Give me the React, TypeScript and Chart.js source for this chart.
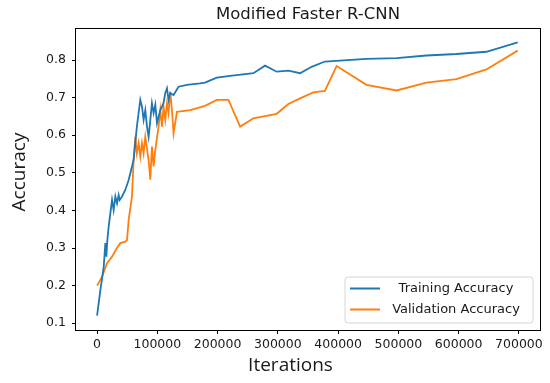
import React, { useEffect, useRef } from "react";
import { Chart, registerables } from "chart.js";

Chart.register(...registerables);

const TITLE = "Modified Faster R-CNN";
const X_LABEL = "Iterations";
const Y_LABEL = "Accuracy";
const SERIES_NAMES = ["Training Accuracy", "Validation Accuracy"];
const X_TICKS = [0, 100000, 200000, 300000, 400000, 500000, 600000, 700000];
const Y_TICKS = [0.1, 0.2, 0.3, 0.4, 0.5, 0.6, 0.7, 0.8];

const trainIter = [
  0, 5500, 11000, 13700, 15400, 16800, 19200, 24800, 27500, 30300, 33100, 35800, 37500, 41400, 46900,
  52400, 60600, 66000, 71700, 74500, 77200, 80000, 82800, 85500, 88300, 91000, 93800, 96600, 99400,
  104900, 110300, 113100, 116000, 118600, 121400, 126900, 135200, 149000, 171000, 179000, 198700,
  220800, 259400, 278800, 298000, 317400, 336800, 356000, 378000, 447000, 497000, 546600, 596300,
  646000, 698000,
];
const trainAcc = [
  0.12, 0.189, 0.25, 0.313, 0.277, 0.317, 0.357, 0.428, 0.401, 0.437, 0.419, 0.441, 0.428, 0.437, 0.455,
  0.481, 0.534, 0.623, 0.694, 0.676, 0.641, 0.667, 0.623, 0.596, 0.64, 0.685, 0.659, 0.681, 0.632,
  0.667, 0.685, 0.712, 0.725, 0.694, 0.712, 0.707, 0.729, 0.734, 0.738, 0.74, 0.753,
  0.758, 0.765, 0.785, 0.769, 0.772, 0.765, 0.782, 0.796, 0.803, 0.805, 0.812, 0.816,
  0.822, 0.847,
];

const valIter = [
  0, 8300, 16500, 24800, 33000, 38600, 46900, 49700, 52400, 57900, 60600, 63400, 66000, 69000, 71700,
  74500, 77200, 80000, 85500, 88300, 91000, 93800, 96600, 102000, 104900, 107700, 110300, 113100,
  116000, 118600, 121400, 124200, 126900, 132500, 154500, 179000, 198700, 218000, 237400, 259400,
  298000, 317400, 336800, 358800, 378000, 397500, 447000, 497000, 546600, 596300, 646000, 698000,
];
const valAcc = [
  0.2, 0.224, 0.26, 0.277, 0.3, 0.313, 0.317, 0.322, 0.375, 0.437, 0.534, 0.596, 0.552, 0.579, 0.543,
  0.579, 0.552, 0.596, 0.534, 0.482, 0.57, 0.517, 0.561, 0.623, 0.667, 0.623, 0.676, 0.641,
  0.685, 0.659, 0.716, 0.667, 0.605, 0.662, 0.667, 0.678, 0.694, 0.694, 0.623, 0.645,
  0.657, 0.683, 0.698, 0.714, 0.718, 0.784, 0.734, 0.719, 0.74, 0.749, 0.775, 0.825,
];

const BLUE = "#1f77b4";
const ORANGE = "#ff7f0e";
const TEXT = "#1a1a1a";

const decorPlugin = {
  id: "decor",
  afterDatasetsDraw(chart: any) {
    const { ctx, chartArea } = chart;
    const { left, right, top, bottom } = chartArea;
    ctx.save();
    // frame (spines)
    ctx.strokeStyle = "#000";
    ctx.lineWidth = 1;
    ctx.strokeRect(Math.round(left) - 0.5, Math.round(top) - 0.5, Math.round(right - left) + 1, Math.round(bottom - top) + 1);

    // legend
    const bw = 188;
    const bh = 46;
    const bx = right - 7 - bw;
    const by = bottom - 7 - bh;
    ctx.beginPath();
    const r = 3;
    ctx.moveTo(bx + r, by);
    ctx.lineTo(bx + bw - r, by);
    ctx.quadraticCurveTo(bx + bw, by, bx + bw, by + r);
    ctx.lineTo(bx + bw, by + bh - r);
    ctx.quadraticCurveTo(bx + bw, by + bh, bx + bw - r, by + bh);
    ctx.lineTo(bx + r, by + bh);
    ctx.quadraticCurveTo(bx, by + bh, bx, by + bh - r);
    ctx.lineTo(bx, by + r);
    ctx.quadraticCurveTo(bx, by, bx + r, by);
    ctx.closePath();
    ctx.fillStyle = "rgba(255,255,255,0.85)";
    ctx.fill();
    ctx.strokeStyle = "#d6d6d6";
    ctx.lineWidth = 1;
    ctx.stroke();
    const colors = [BLUE, ORANGE];
    const rows = [by + 11.5, by + 32.5];
    SERIES_NAMES.forEach((name, i) => {
      ctx.strokeStyle = colors[i];
      ctx.lineWidth = 2;
      ctx.beginPath();
      ctx.moveTo(bx + 5, rows[i]);
      ctx.lineTo(bx + 35, rows[i]);
      ctx.stroke();
      ctx.fillStyle = TEXT;
      ctx.font = "13px 'DejaVu Sans'";
      ctx.textAlign = "center";
      ctx.textBaseline = "middle";
      ctx.fillText(name, bx + 111, rows[i]);
    });

    // axis titles
    ctx.fillStyle = TEXT;
    ctx.font = "19px 'Open Sans'";
    ctx.textAlign = "center";
    ctx.textBaseline = "middle";
    ctx.fillText(X_LABEL, 290.5, 366);
    ctx.translate(20, 172);
    ctx.rotate(-Math.PI / 2);
    ctx.fillText(Y_LABEL, 0, 0);
    ctx.restore();
  },
};

export default function App() {
  const ref = useRef<HTMLCanvasElement | null>(null);
  useEffect(() => {
    document.body.style.margin = "0";
    if (!ref.current) return;
    const chart = new Chart(ref.current, {
      type: "line",
      data: {
        datasets: [
          {
            label: SERIES_NAMES[0],
            data: trainIter.map((x, i) => ({ x, y: trainAcc[i] })),
            borderColor: BLUE,
            backgroundColor: BLUE,
            borderWidth: 1.8,
            pointRadius: 0,
            tension: 0,
          },
          {
            label: SERIES_NAMES[1],
            data: valIter.map((x, i) => ({ x, y: valAcc[i] })),
            borderColor: ORANGE,
            backgroundColor: ORANGE,
            borderWidth: 1.8,
            pointRadius: 0,
            tension: 0,
          },
        ],
      },
      options: {
        responsive: false,
        animation: false,
        layout: { padding: { left: 0, right: 10, top: 0, bottom: 0 } },
        plugins: {
          legend: { display: false },
          tooltip: { enabled: false },
          title: {
            display: true,
            fullSize: false,
            text: TITLE,
            color: TEXT,
            font: { family: "'DejaVu Sans'", size: 16.5, weight: "normal" },
            padding: { top: 5, bottom: 4.2 },
          },
        },
        scales: {
          x: {
            type: "linear",
            min: -35000,
            max: 735000,
            border: { display: false },
            grid: { display: true, drawOnChartArea: false, drawTicks: true, tickLength: 4, color: "#000" },
            ticks: {
              color: TEXT,
              font: { family: "'DejaVu Sans'", size: 12.5 },
              padding: 3,
              maxRotation: 0,
              autoSkip: false,
              callback: (v: any) => String(v),
            },
            afterBuildTicks: (scale: any) => {
              scale.ticks = X_TICKS.map((v) => ({ value: v }));
            },
            afterFit: (scale: any) => {
              scale.height = 53;
            },
          },
          y: {
            type: "linear",
            min: 0.082,
            max: 0.8825,
            border: { display: false },
            grid: { display: true, drawOnChartArea: false, drawTicks: true, tickLength: 4, color: "#000" },
            ticks: {
              color: TEXT,
              font: { family: "'DejaVu Sans'", size: 12.5 },
              padding: 6,
              autoSkip: false,
              callback: (v: any) => Number(v).toFixed(1),
            },
            afterBuildTicks: (scale: any) => {
              scale.ticks = Y_TICKS.map((v) => ({ value: v }));
            },
            afterFit: (scale: any) => {
              scale.width = 76;
            },
          },
        },
      },
      plugins: [decorPlugin],
    });
    return () => chart.destroy();
  }, []);
  return (
    <div style={{ width: 550, height: 383, background: "#fff" }}>
      <canvas ref={ref} width={550} height={383} />
    </div>
  );
}
